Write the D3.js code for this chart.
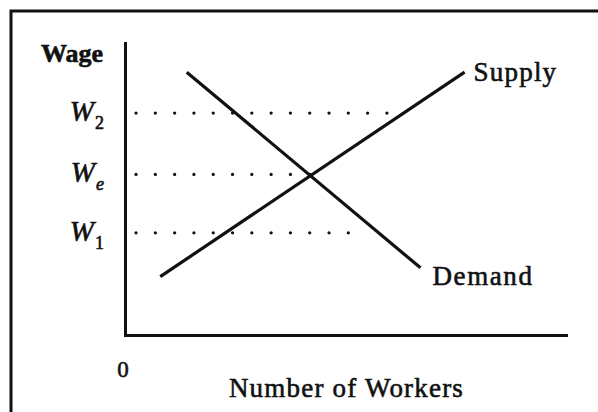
<!DOCTYPE html>
<html>
<head>
<meta charset="utf-8">
<script src="https://cdn.jsdelivr.net/npm/d3@7"></script>
<style>
  body { margin: 0; background: #fff; }
  svg text { font-family: "Liberation Serif", "Times New Roman", serif; fill: #111; stroke: #111; stroke-width: 0.6px; }
</style>
</head>
<body>
<script>
// curve end points, [workers, wage] on a 0-100 scale
var supplyPts = [[8, 20], [77, 90]];
var demandPts = [[14, 90], [67, 23]];
var curveNames = ["Supply", "Demand"];

// wage levels with their dotted guides
var wageLevels = [76, 55, 35];
var wageSubs = ["2", "e", "1"];
var dotStart = 2.5;
var dotEnds = [60, 42, 55];

var axisLabels = ["Wage", "Number of Workers", "0"];

var w = 598;
var h = 412;
var ink = "#111";

var svg = d3.select("body")
    .append("svg")
    .attr("width", w)
    .attr("height", h);

// scan frame, only top and left edges are in the picture
svg.append("path")
    .attr("d", "M11,412V11H598")
    .attr("fill", "none")
    .attr("stroke", ink)
    .attr("stroke-width", 3);

var x = d3.scaleLinear().domain([0, 100]).range([125, 566]);
var y = d3.scaleLinear().domain([0, 100]).range([335, 43]);

svg.append("g")
    .attr("transform", "translate(0," + y(0) + ")")
    .call(d3.axisBottom(x).tickValues([]).tickSizeOuter(0));
svg.append("g")
    .attr("transform", "translate(" + x(0) + ",0)")
    .call(d3.axisLeft(y).tickValues([]).tickSizeOuter(0));
svg.selectAll(".domain")
    .attr("stroke", ink)
    .attr("stroke-width", 3)
    .attr("stroke-linecap", "square");

// dotted guides
svg.selectAll("line.guide")
    .data(wageLevels)
    .enter()
    .append("line")
    .attr("class", "guide")
    .attr("x1", x(dotStart))
    .attr("x2", function(d, i) { return x(dotEnds[i]); })
    .attr("y1", function(d) { return y(d); })
    .attr("y2", function(d) { return y(d); })
    .attr("stroke", ink)
    .attr("stroke-width", 3.3)
    .attr("stroke-linecap", "round")
    .attr("stroke-dasharray", "0 19.3");

// supply and demand
var line = d3.line()
    .x(function(d) { return x(d[0]); })
    .y(function(d) { return y(d[1]); });

svg.selectAll("path.curve")
    .data([supplyPts, demandPts])
    .enter()
    .append("path")
    .attr("class", "curve")
    .attr("d", line)
    .attr("fill", "none")
    .attr("stroke", ink)
    .attr("stroke-width", 3.2);

svg.append("text")
    .attr("x", x(supplyPts[1][0]) + 9)
    .attr("y", y(supplyPts[1][1]) + 9)
    .attr("font-size", "27px")
    .attr("letter-spacing", "1.2px")
    .text(curveNames[0]);

svg.append("text")
    .attr("x", x(demandPts[1][0]) + 12)
    .attr("y", y(demandPts[1][1]) + 17)
    .attr("font-size", "27px")
    .attr("letter-spacing", "1.6px")
    .text(curveNames[1]);

// wage labels W2, We, W1
var wl = svg.selectAll("text.wlab")
    .data(wageLevels)
    .enter()
    .append("text")
    .attr("class", "wlab")
    .attr("x", x(0) - 21)
    .attr("y", function(d) { return y(d) + 8; })
    .attr("text-anchor", "end");
wl.append("tspan")
    .attr("font-size", "29px")
    .attr("font-style", "italic")
    .text("W");
wl.append("tspan")
    .attr("font-size", "18px")
    .attr("dy", 8)
    .attr("dx", 1)
    .attr("font-style", function(d, i) { return wageSubs[i] === "e" ? "italic" : "normal"; })
    .text(function(d, i) { return wageSubs[i]; });

// axis titles
svg.append("text")
    .attr("x", x(0) - 22)
    .attr("y", y(100) + 19)
    .attr("text-anchor", "end")
    .attr("font-size", "26px")
    .attr("font-weight", "bold")
    .text(axisLabels[0]);

svg.append("text")
    .attr("x", (x(0) + x(100)) / 2 + 1)
    .attr("y", y(0) + 62)
    .attr("text-anchor", "middle")
    .attr("font-size", "27px")
    .attr("letter-spacing", "1.2px")
    .text(axisLabels[1]);

svg.append("text")
    .attr("x", x(0) - 2)
    .attr("y", y(0) + 42)
    .attr("text-anchor", "middle")
    .attr("font-size", "23px")
    .text(axisLabels[2]);
</script>
</body>
</html>
